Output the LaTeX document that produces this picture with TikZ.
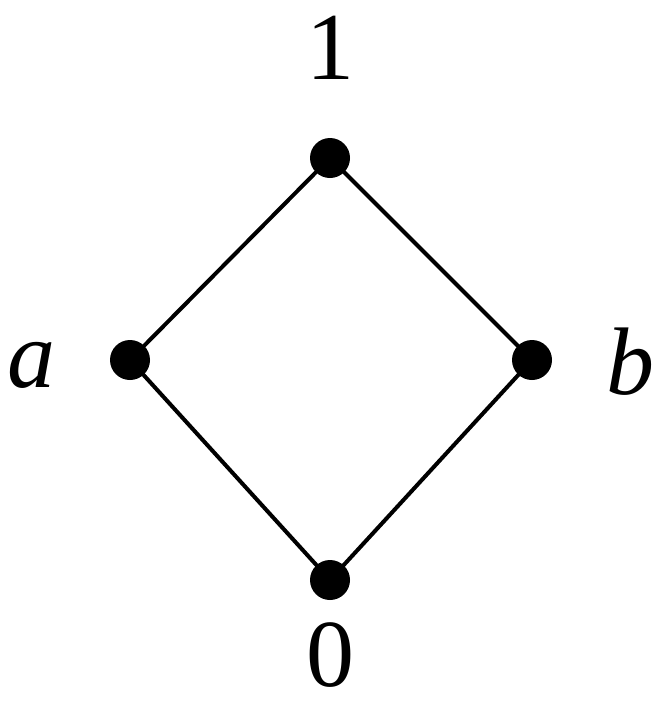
\documentclass[tikz,border=0pt]{standalone}
\usepackage{fontspec}
\setmainfont{Liberation Serif}
\begin{document}
\begin{tikzpicture}[x=1pt,y=-1pt,
  dot/.style={circle,fill=black,inner sep=0pt,minimum size=40pt},
  lbl/.style={font=\fontsize{96}{96}\selectfont,inner sep=0pt}]
\useasboundingbox (0,0) rectangle (662,715);
\node[dot] (t) at (330,158) {};
\node[dot] (a) at (130,360) {};
\node[dot] (b) at (532,360) {};
\node[dot] (z) at (330,580) {};
\draw[line width=4pt] (t.center) -- (a.center) -- (z.center) -- (b.center) -- (t.center);
\node[lbl] (lt) at (330,48) {1};
\node[lbl] (lz) at (330,655) {0};
\node[lbl] (la) at (32,365) {\itshape a};
\node[lbl] (lb) at (630,362) {\itshape b};
\end{tikzpicture}
\end{document}
